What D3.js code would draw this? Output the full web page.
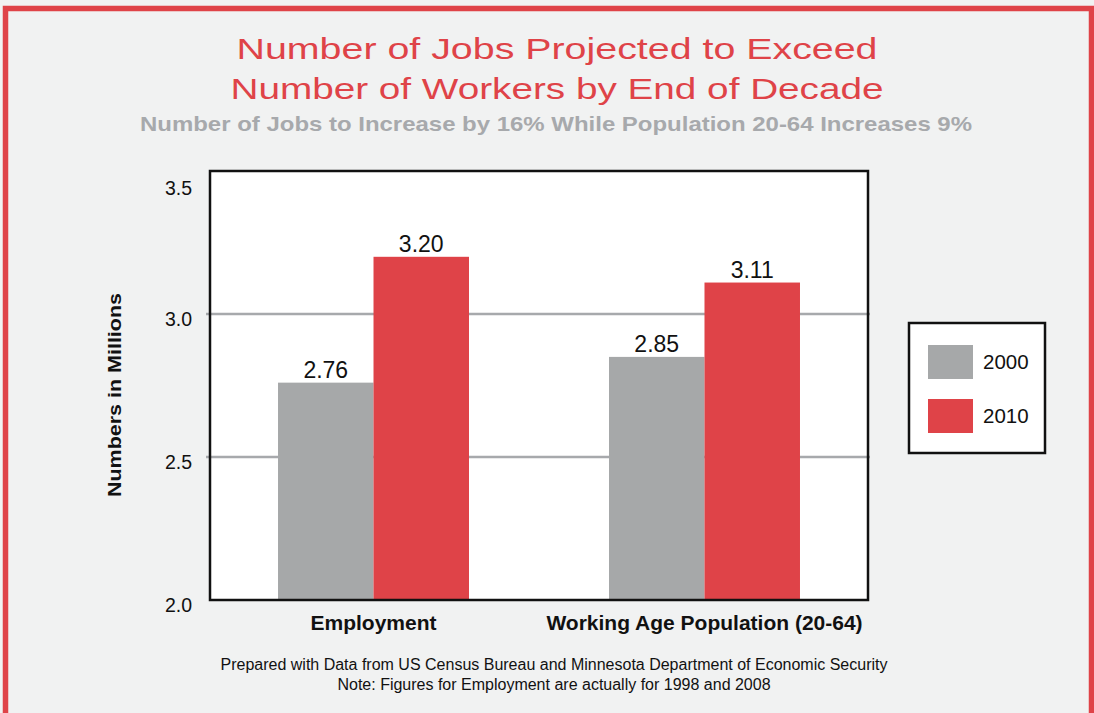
<!DOCTYPE html>
<html>
<head>
<meta charset="utf-8">
<script src="https://cdn.jsdelivr.net/npm/d3@7"></script>
<style>
  html, body { margin: 0; padding: 0; background: #f1f2f2; }
  svg { display: block; }
</style>
</head>
<body>
<svg id="chart" width="1094" height="713"></svg>
<script>
const categories = ["Employment", "Working Age Population (20-64)"];
const seriesNames = ["2000", "2010"];
const values2000 = [2.76, 2.85];
const values2010 = [3.20, 3.11];
const yTicks = [2.0, 2.5, 3.0, 3.5];
const titleLines = ["Number of Jobs Projected to Exceed", "Number of Workers by End of Decade"];
const subtitle = "Number of Jobs to Increase by 16% While Population 20-64 Increases 9%";
const footer = ["Prepared with Data from US Census Bureau and Minnesota Department of Economic Security",
                "Note: Figures for Employment are actually for 1998 and 2008"];

(function () {
const RED = "#df4348", GREY = "#a6a8a9";
const colors = { "2000": GREY, "2010": RED };
const FONT = "'Liberation Sans', Arial, sans-serif";

const svg = d3.select("#chart");
const W = 1094, H = 713;

// background and outer red frame
svg.append("rect").attr("x", 0).attr("y", 0).attr("width", W).attr("height", H).attr("fill", "#f1f2f2");
svg.append("path")
  .attr("d", `M5.5,${H + 5} V8.5 H1091.5 V${H + 5}`)
  .attr("fill", "none").attr("stroke", RED).attr("stroke-width", 5.5);

// titles
const t = svg.append("g").attr("font-family", FONT).attr("text-anchor", "middle");
t.append("text").attr("x", 557).attr("y", 59).attr("fill", RED).attr("font-size", 30)
  .attr("textLength", 641).attr("lengthAdjust", "spacingAndGlyphs").text(titleLines[0]);
t.append("text").attr("x", 557).attr("y", 99).attr("fill", RED).attr("font-size", 30)
  .attr("textLength", 653).attr("lengthAdjust", "spacingAndGlyphs").text(titleLines[1]);
t.append("text").attr("x", 556).attr("y", 131).attr("fill", "#a7a9ac").attr("font-size", 20.5)
  .attr("font-weight", "bold").attr("textLength", 832).attr("lengthAdjust", "spacingAndGlyphs").text(subtitle);

// plot area
const pLeft = 210, pRight = 868, pTop = 171, pBottom = 600;
const x0 = d3.scaleBand().domain(categories).range([pLeft, pRight]).paddingInner(0.423).paddingOuter(0.2055);
const x1 = d3.scaleBand().domain(seriesNames).range([0, x0.bandwidth()]).padding(0);
const y = d3.scaleLinear().domain([2.0, 3.5]).range([pBottom, pTop]);

svg.append("rect").attr("x", pLeft).attr("y", pTop).attr("width", pRight - pLeft).attr("height", pBottom - pTop)
  .attr("fill", "#ffffff");

// gridlines
svg.append("g").selectAll("line").data(yTicks.filter(d => d > 2 && d < 3.5)).join("line")
  .attr("x1", pLeft - 4).attr("x2", pRight + 2)
  .attr("y1", d => y(d)).attr("y2", d => y(d))
  .attr("stroke", "#a7a9ac").attr("stroke-width", 2.5);

// bars
const data = categories.map((c, i) => ({ cat: c, vals: [
  { s: "2000", v: values2000[i] }, { s: "2010", v: values2010[i] }] }));
const groups = svg.append("g").selectAll("g").data(data).join("g")
  .attr("transform", d => `translate(${x0(d.cat)},0)`);
groups.selectAll("rect").data(d => d.vals).join("rect")
  .attr("x", d => x1(d.s)).attr("width", x1.bandwidth())
  .attr("y", d => y(d.v)).attr("height", d => y(2.0) - y(d.v))
  .attr("fill", d => colors[d.s]);
groups.selectAll("text").data(d => d.vals).join("text")
  .attr("x", d => x1(d.s) + x1.bandwidth() / 2).attr("y", d => y(d.v) - 5)
  .attr("text-anchor", "middle").attr("font-family", FONT)
  .attr("font-size", 23).attr("fill", "#111").text(d => d.v.toFixed(2));

// frame
svg.append("rect").attr("x", pLeft).attr("y", pTop).attr("width", pRight - pLeft).attr("height", pBottom - pTop)
  .attr("fill", "none").attr("stroke", "#111").attr("stroke-width", 2.5);

// y axis labels
const yAxis = d3.axisLeft(y).tickValues(yTicks).tickFormat(d3.format(".1f")).tickSize(0).tickPadding(18);
const ya = svg.append("g").attr("transform", `translate(${pLeft},0)`).call(yAxis);
ya.select(".domain").remove();
ya.selectAll("text").attr("font-family", FONT).attr("font-size", 19.5)
  .attr("fill", "#111").attr("dy", d => d === 3.5 ? "1.2em" : "0.6em");

svg.append("text").attr("transform", `translate(121,395) rotate(-90)`).attr("text-anchor", "middle")
  .attr("font-family", FONT).attr("font-size", 18.5).attr("font-weight", "bold")
  .attr("textLength", 204).attr("lengthAdjust", "spacingAndGlyphs")
  .attr("fill", "#111").text("Numbers in Millions");

// x axis labels
const xAxis = d3.axisBottom(x0).tickSize(0).tickPadding(15);
const xa = svg.append("g").attr("transform", `translate(0,${pBottom})`).call(xAxis);
xa.select(".domain").remove();
xa.selectAll("text").attr("font-family", FONT).attr("font-size", 21)
  .attr("font-weight", "bold").attr("fill", "#111");

// legend
const lg = svg.append("g");
lg.append("rect").attr("x", 909).attr("y", 323).attr("width", 136).attr("height", 130)
  .attr("fill", "#fff").attr("stroke", "#111").attr("stroke-width", 2.5);
const legendRows = lg.selectAll("g").data(seriesNames).join("g")
  .attr("transform", (d, i) => `translate(928,${345 + i * 54})`);
legendRows.append("rect").attr("width", 45).attr("height", 34).attr("fill", d => colors[d]);
legendRows.append("text").attr("x", 55).attr("y", 24).attr("font-family", FONT)
  .attr("font-size", 20.5).attr("fill", "#111").text(d => d);

// footer
svg.append("g").selectAll("text").data(footer).join("text")
  .attr("x", 554).attr("y", (d, i) => 670 + i * 20).attr("text-anchor", "middle")
  .attr("font-family", FONT).attr("font-size", 16).attr("fill", "#111")
  .text(d => d);
})();
</script>
</body>
</html>
